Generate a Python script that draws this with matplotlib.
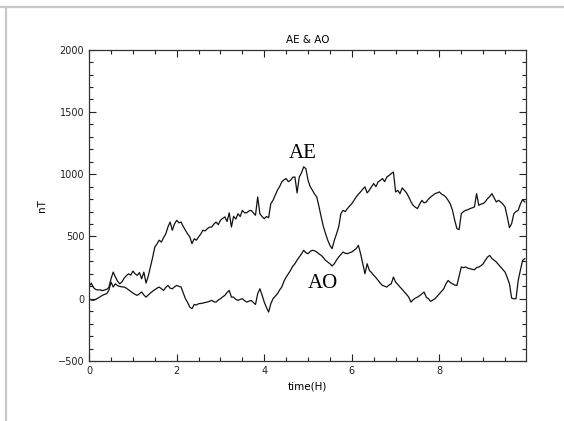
import numpy as np
import matplotlib
matplotlib.use('Agg')
import matplotlib.pyplot as plt
from matplotlib.lines import Line2D

# sample times (hours), 0.05 h spacing
t = np.arange(200) * 0.05

ae = [100, 125, 90, 75, 70, 72, 65, 70, 75, 90, 160, 214, 175, 140, 120, 135, 165, 185, 200, 190,
      222, 200, 188, 210, 160, 214, 126, 180, 255, 330, 415, 440, 470, 455, 490, 520, 576, 616, 550, 600,
      630, 610, 616, 580, 550, 520, 496, 442, 482, 470, 496, 520, 550, 545, 563, 575, 576, 600, 616, 595,
      630, 645, 657, 620, 690, 576, 662, 640, 683, 660, 710, 690, 690, 705, 710, 690, 670, 817, 683, 660,
      643, 660, 651, 764, 790, 830, 871, 900, 938, 955, 965, 940, 951, 975, 978, 850, 978, 1010, 1059, 1045,
      951, 900, 871, 840, 817, 740, 657, 580, 523, 470, 429, 402, 469, 520, 576, 683, 710, 700, 724, 745,
      764, 790, 817, 840, 858, 880, 898, 850, 871, 900, 925, 900, 938, 950, 965, 940, 978, 990, 1005, 1018,
      858, 870, 844, 890, 871, 850, 817, 780, 750, 735, 724, 760, 790, 770, 777, 800, 817, 830, 844, 850,
      858, 840, 831, 815, 790, 760, 710, 630, 563, 555, 683, 700, 710, 715, 724, 730, 737, 844, 750, 760,
      764, 780, 804, 820, 844, 810, 777, 790, 777, 760, 737, 657, 571, 603, 683, 700, 710, 760, 796, 777]

ao = [0, -10, -13, -5, 5, 15, 27, 35, 40, 67, 134, 94, 120, 105, 99, 95, 94, 85, 72, 60,
      46, 35, 27, 40, 54, 30, 13, 30, 46, 60, 72, 85, 94, 80, 67, 90, 107, 85, 80, 95,
      107, 100, 94, 46, 0, -30, -67, -80, -46, -50, -40, -38, -35, -30, -27, -20, -13, -25, -27, -10,
      0, 15, 27, 50, 67, 13, 13, -5, -13, -5, 0, -15, -27, -20, -13, -30, -46, 40, 80, 30,
      -27, -70, -107, -40, 0, 20, 40, 70, 94, 140, 174, 200, 228, 260, 281, 310, 335, 360, 389, 370,
      362, 380, 389, 385, 375, 360, 348, 330, 308, 295, 281, 263, 281, 310, 335, 355, 375, 365, 362, 370,
      375, 390, 402, 429, 362, 280, 201, 281, 228, 210, 188, 170, 147, 125, 107, 100, 94, 110, 120, 174,
      134, 115, 94, 75, 54, 35, 13, -27, -8, 5, 13, 25, 40, 54, 13, 0, -21, -10, 0, 20,
      40, 60, 80, 120, 147, 130, 120, 110, 107, 180, 255, 250, 255, 245, 241, 236, 233, 250, 255, 265,
      281, 310, 335, 348, 322, 310, 295, 275, 255, 235, 214, 170, 120, 5, 0, 0, 147, 230, 308, 322]

xticks = [0, 2, 4, 6, 8]
yticks = [-500, 0, 500, 1000, 1500, 2000]

fig = plt.figure(figsize=(5.64, 4.21), dpi=100)
ax = fig.add_axes([0.158, 0.1425, 0.774, 0.7395])

ax.plot(t, ae, color='#111111', lw=0.9)
ax.plot(t, ao, color='#111111', lw=0.9)

ax.text(4.88, 1166, 'AE', family='Liberation Serif', fontsize=15, ha='center', va='center')
ax.text(5.35, 126, 'AO', family='Liberation Serif', fontsize=15, ha='center', va='center')

ax.set_xlim(0, 9.97)
ax.set_ylim(-500, 2000)
ax.set_xticks(xticks)
ax.set_yticks(yticks)
ax.set_xticks(np.arange(0, 10, 0.5), minor=True)
ax.set_yticks(np.arange(-500, 2001, 100), minor=True)
ax.tick_params(which='both', direction='in', top=True, right=True, labelsize=7, colors='#222222', width=0.8)
ax.tick_params(which='major', length=5)
ax.tick_params(which='minor', length=2.8)
for s in ax.spines.values():
    s.set_color('#333333')
    s.set_linewidth(0.9)

ax.set_title('AE & AO', fontsize=7.5, pad=5)
ax.set_xlabel('time(H)', fontsize=7.5, labelpad=4)
ax.set_ylabel('nT', fontsize=7.5, labelpad=8)

# light gray page border (top and left)
fig.add_artist(Line2D([0, 1], [0.983, 0.983], color='#c8c8c8', lw=1.6))
fig.add_artist(Line2D([0.0115, 0.0115], [0, 0.983], color='#c8c8c8', lw=1.6))

fig.savefig('out.png', dpi=100)
